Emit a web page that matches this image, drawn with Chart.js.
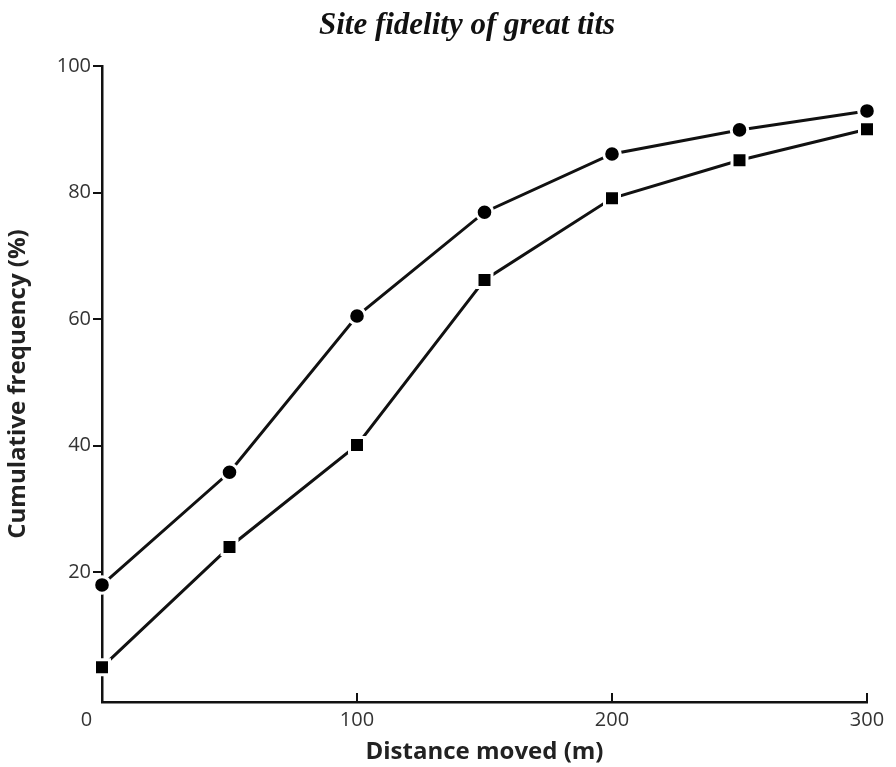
<!DOCTYPE html>
<html>
<head>
<meta charset="utf-8">
<script src="https://cdn.jsdelivr.net/npm/chart.js@4.4.1/dist/chart.umd.min.js"></script>
<style>
  html, body { margin: 0; padding: 0; background: #ffffff; }
  #wrap { width: 896px; height: 767px; position: relative; }
</style>
</head>
<body>
<div id="wrap"><canvas id="c" width="896" height="767"></canvas></div>
<script>
const chartTitle = 'Site fidelity of great tits';
const xTitle = 'Distance moved (m)';
const yTitle = 'Cumulative frequency (%)';
const distances = [0, 50, 100, 150, 200, 250, 300];
const circleSeries = [18, 35.8, 60.5, 76.9, 86.1, 89.9, 92.9];
const squareSeries = [5, 24, 40.1, 66.2, 79.1, 85.1, 90];
const xTickValues = [0, 100, 200, 300];
const yTickValues = [20, 40, 60, 80, 100];

const toPoints = (ys) => distances.map((x, i) => ({ x: x, y: ys[i] }));

const titlePlugin = {
  id: 'customTitle',
  afterDraw(chart) {
    const ctx = chart.ctx;
    ctx.save();
    ctx.font = 'italic bold 31px "Liberation Serif"';
    ctx.fillStyle = '#111';
    ctx.textAlign = 'center';
    ctx.textBaseline = 'alphabetic';
    ctx.fillText(chartTitle, 467, 34);
    ctx.restore();
  }
};

const innerTicksPlugin = {
  id: 'innerTicks',
  beforeDatasetsDraw(chart) {
    const xs = chart.scales.x;
    const ctx = chart.ctx;
    const yb = chart.chartArea.bottom;
    ctx.save();
    ctx.strokeStyle = '#111';
    ctx.lineWidth = 2;
    xTickValues.forEach(v => {
      if (v === 0) return;
      const px = xs.getPixelForValue(v);
      ctx.beginPath();
      ctx.moveTo(px, yb);
      ctx.lineTo(px, yb - 9);
      ctx.stroke();
    });
    ctx.restore();
  }
};

new Chart(document.getElementById('c'), {
  type: 'scatter',
  data: {
    datasets: [
      {
        label: 'circles',
        data: toPoints(circleSeries),
        showLine: true,
        borderColor: '#111',
        borderWidth: 3,
        pointStyle: 'circle',
        pointRadius: 8.3,
        pointBorderWidth: 3,
        pointBackgroundColor: '#000',
        pointBorderColor: '#ffffff',
        clip: false
      },
      {
        label: 'squares',
        data: toPoints(squareSeries),
        showLine: true,
        borderColor: '#111',
        borderWidth: 3,
        pointStyle: 'rect',
        pointRadius: 10.6,
        pointBorderWidth: 3,
        pointBackgroundColor: '#000',
        pointBorderColor: '#ffffff',
        clip: false
      }
    ]
  },
  plugins: [titlePlugin, innerTicksPlugin],
  options: {
    responsive: false,
    animation: false,
    layout: { padding: { top: 66, right: 29, bottom: 0, left: 0 } },
    plugins: {
      legend: { display: false },
      tooltip: { enabled: false },
      title: { display: false }
    },
    scales: {
      x: {
        type: 'linear',
        min: 0,
        max: 300,
        afterFit(scale) { scale.height = 65; },
        afterBuildTicks(scale) { scale.ticks = xTickValues.map(v => ({ value: v })); },
        grid: { display: true, drawOnChartArea: false, drawTicks: false },
        border: { display: true, color: '#111', width: 2.5 },
        ticks: {
          padding: 6,
          color: '#333',
          font: { family: '"Open Sans"', size: 20 },
          maxRotation: 0,
          callback: (v) => (v === 0 ? '0      ' : String(v))
        },
        title: {
          display: true,
          text: xTitle,
          color: '#222',
          font: { family: '"Open Sans"', size: 24, weight: 'bold' },
          padding: { top: 0, bottom: 0.6 }
        }
      },
      y: {
        type: 'linear',
        min: -0.5,
        max: 100,
        afterFit(scale) { scale.width = 102; },
        afterBuildTicks(scale) { scale.ticks = yTickValues.map(v => ({ value: v })); },
        grid: {
          display: true,
          drawOnChartArea: false,
          drawTicks: true,
          tickLength: 9,
          lineWidth: 2,
          color: '#111'
        },
        border: { display: true, color: '#111', width: 2.5 },
        ticks: {
          padding: 2,
          color: '#333',
          font: { family: '"Open Sans"', size: 20 }
        },
        title: {
          display: true,
          text: yTitle,
          color: '#222',
          font: { family: '"Open Sans"', size: 24, weight: 'bold' },
          padding: { top: 3.6, bottom: 0 }
        }
      }
    }
  }
});
</script>
</body>
</html>
